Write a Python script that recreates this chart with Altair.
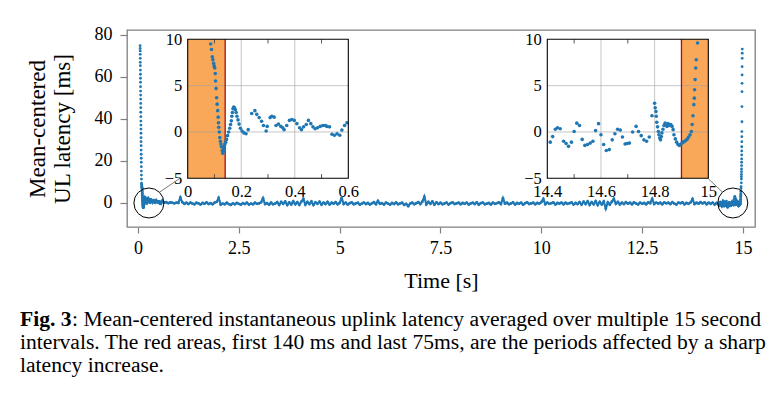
import altair as alt
import pandas as pd

FONT = "Liberation Serif"
BLUE = "#1f77b4"
ORANGE = "#f9a85a"
DARKRED = "#a50f15"
FRAME_GRAY = "#808080"

# ---------------- data ----------------
# left spike (start of interval), visible only in the main plot
spike_left_t = [0.052, 0.053, 0.054, 0.055, 0.056, 0.057, 0.058, 0.059, 0.060, 0.061,
                0.062, 0.063, 0.064, 0.065, 0.066, 0.067, 0.068, 0.069, 0.070, 0.071,
                0.072, 0.073, 0.074, 0.075, 0.076, 0.077, 0.078, 0.079, 0.080, 0.081,
                0.082, 0.083, 0.084, 0.085]
spike_left_v = [74.9, 73.6, 72.4, 70.8, 68.9, 67.0, 65.4, 63.3, 61.3, 59.4,
                57.5, 55.4, 53.3, 51.4, 49.5, 47.4, 45.4, 43.2, 41.1, 39.0,
                37.1, 35.2, 33.2, 31.1, 29.2, 27.3, 25.2, 23.2, 21.3, 19.4,
                17.3, 15.2, 13.3, 11.4]

# first zoom window (0 - 0.6 s)
inset1_t = [0.086, 0.089, 0.092, 0.094, 0.097, 0.099, 0.101, 0.103, 0.104, 0.106,
            0.108, 0.110, 0.112, 0.114, 0.115, 0.116, 0.118, 0.120, 0.122, 0.124,
            0.126, 0.129, 0.131, 0.133, 0.135, 0.137, 0.139, 0.142, 0.145, 0.149,
            0.153, 0.157, 0.160, 0.163, 0.165, 0.167, 0.169, 0.172, 0.175, 0.178,
            0.181, 0.184, 0.188, 0.192, 0.197, 0.203, 0.210, 0.218, 0.226, 0.239,
            0.251, 0.258, 0.267, 0.276, 0.283, 0.293, 0.297, 0.308, 0.314, 0.323,
            0.330, 0.339, 0.348, 0.355, 0.360, 0.370, 0.380, 0.389, 0.398, 0.408,
            0.418, 0.425, 0.433, 0.443, 0.451, 0.460, 0.468, 0.476, 0.485, 0.495,
            0.505, 0.514, 0.520, 0.530, 0.539, 0.548, 0.558, 0.568, 0.576, 0.586, 0.595]
inset1_v = [9.5, 8.9, 8.1, 7.8, 7.4, 7.1, 6.9, 6.3, 5.5, 4.7,
            3.7, 3.0, 2.3, 1.6, 1.0, 0.5, 0.0, -0.6, -1.0, -1.3,
            -1.6, -2.0, -2.3, -2.1, -1.8, -1.5, -1.3, -1.1, -0.8, -0.4,
            0.0, 0.4, 0.8, 1.2, 1.7, 2.1, 2.5, 2.7, 2.6, 2.4,
            2.1, 1.7, 1.3, 0.85, 0.4, 0.1, -0.1, -0.2, 0.25, 2.0,
            2.3, 1.9, 1.55, 1.15, 0.7, 0.1, 0.6, 1.55, 1.7, 1.6,
            0.7, 0.85, 0.6, 0.45, 0.25, 0.7, 1.25, 1.35, 1.25, 0.9,
            0.45, 0.25, 0.55, 0.8, 1.25, 0.9, 0.55, 0.35, 0.45, 0.6,
            0.7, 0.7, 0.6, 0.55, -0.25, -0.35, -0.2, -0.35, 0.2, 0.7, 1.0]

# middle of the interval, one value every 50 ms from 0.60 s to 14.35 s
mid_start, mid_step = 0.6, 0.05
mid_v = [0.6, 0.2, 0.4, -0.1, 0.3, 0.1, -0.2, 0.2,
         0.0, 2.6, 0.3, -0.4, 0.1, -0.5, 0.2, -0.3, -0.6, 0.1, -0.2, -0.7, 0.0, -0.4, 0.3, -0.5, -0.1, -0.6, 0.2, 0.5,
         2.4, -0.8, -0.3, -0.6, 0.1, -0.5, -0.9, -0.2, -0.6, 0.0, -0.4, -0.8, -0.1, -0.5, 0.2, -0.7, -0.3, -0.6, 0.1, -0.4,
         -0.2, 0.3, 2.3, -0.5, -0.1, -0.8, 0.2, -0.6, -0.3, 0.4, -0.9, 0.5, -0.4, 0.7, -1.0, 0.3, -0.7, 0.8, -0.6, 0.4,
         -0.9, 0.6, 2.0, -0.8, 0.5, -0.5, 0.7, -1.0, 0.3, -0.4, 0.6, -0.8, 0.2, -0.5, 0.5, -0.7, 0.1, -0.3, 0.4, -0.6,
         0.0, 2.4, -0.5, 0.2, -0.7, -0.1, 0.3, -0.6, -0.2, 0.1, -0.8, -0.3, 0.2, -0.5, 0.0, -0.7, -0.2, 0.4, -0.6, 1.0,
         -0.4, -0.1, -0.7, 0.2, -0.3, -0.8, 0.0, -0.5, 0.3, -0.6, -0.2, 0.1, -0.9, -0.4, -1.5, -0.3, 0.2, -0.6, -0.1, 0.4,
         -0.5, 0.6, 3.0, -0.7, 0.5, -0.4, 0.7, -0.8, 0.3, -0.5, 0.1, -0.6, -0.2, 0.2, -0.7, -0.1, 0.3, -0.5, -0.2, 0.1,
         -0.6, 0.0, -0.4, 0.2, -0.7, -0.2, 0.1, -0.5, 0.3, -0.8, -0.1, 0.2, -0.6, -0.3, 0.0, -0.7, 0.2, -0.4, -0.1, 0.3,
         -0.5, 2.3, -0.3, 0.1, -0.6, -0.2, 0.3, -0.7, 0.0, -0.4, 0.2, -0.8, -0.1, 0.3, -0.5, -0.2, 0.1, -0.6, 0.0, -0.3,
         0.4, 1.9, -0.6, 0.2, -0.4, -0.1, 0.3, -0.7, 0.0, -0.3, 0.2, -0.6, 0.1, -0.4, -0.1, 0.3, -0.7, 0.0, -0.5, 0.4,
         -0.8, 0.6, -0.5, 0.8, -0.9, 0.4, -0.6, 0.9, -1.0, 0.5, -0.7, 0.7, -2.6, 0.3, -0.8, 0.6, 2.0, -0.4, 0.5, -0.7,
         0.2, -0.5, 0.4, -0.3, 0.1, -0.6, 0.3, -0.2, -0.7, 0.2, -0.4, 0.0, -0.6, 0.3, -0.1, 2.0, -0.5, 0.2, -0.3, 0.1,
         -0.6, 0.3, -0.2, 0.1, -0.5, 0.4, -0.3, -0.7, 0.2, -0.1, 0.3, -0.6, 0.0, -0.4, 0.2, 1.9, -0.5, 0.1, -0.3, 0.4,
         -0.2, 0.3, -0.6, 0.1, -0.4, 0.2, -0.7, 0.0]
mid_t = [round(mid_start + mid_step * i, 3) for i in range(len(mid_v))]

# second zoom window (14.4 - 15 s)
inset2_t = [14.411, 14.420, 14.430, 14.438, 14.448, 14.461, 14.470, 14.479, 14.490, 14.500,
            14.510, 14.520, 14.530, 14.540, 14.550, 14.560, 14.570, 14.580, 14.591, 14.600,
            14.610, 14.620, 14.631, 14.642, 14.652, 14.662, 14.672, 14.680, 14.690, 14.697,
            14.706, 14.718, 14.731, 14.740, 14.750, 14.760, 14.770, 14.780, 14.790, 14.800,
            14.802, 14.805, 14.806, 14.808, 14.811, 14.814, 14.816, 14.819, 14.822, 14.825,
            14.827, 14.831, 14.835, 14.839, 14.842, 14.846, 14.850, 14.855, 14.860, 14.865,
            14.869, 14.872, 14.877, 14.882, 14.887, 14.892, 14.897, 14.902, 14.907, 14.912,
            14.917, 14.922, 14.927, 14.932, 14.937, 14.940, 14.943, 14.946, 14.948, 14.949,
            14.951, 14.953, 14.955, 14.960]
inset2_v = [-1.1, -0.5, 0.3, 0.45, 0.35, -1.0, -1.25, -1.55, -1.1, 0.05,
            0.95, 0.7, -0.8, -1.45, -1.35, -1.2, -1.0, 0.15, 0.9, -0.3,
            -1.35, -2.0, -1.9, -0.85, -0.2, 0.3, 0.2, -0.55, -1.3, -1.25,
            -1.2, 0.0, 0.6, 0.05, -0.4, -0.85, -1.0, -0.55, 1.75, 3.1,
            2.6, 2.2, 1.7, 1.05, 0.55, 0.05, -0.3, -0.65, -0.85, -0.5,
            -0.1, 0.3, 0.7, 0.95, 0.8, 0.6, 0.9, 0.7, 0.8, 0.6,
            0.25, -0.3, -0.75, -1.1, -1.35, -1.45, -1.35, -1.2, -1.1, -1.0,
            -0.9, -0.75, -0.55, -0.3, 0.05, 0.8, 1.75, 2.95, 3.65, 4.55,
            5.65, 6.9, 7.8, 9.6]

# right spike (end of interval), visible only in the main plot
spike_right_t = [14.962, 14.963, 14.964, 14.965, 14.966, 14.967, 14.968, 14.969, 14.970, 14.971,
                 14.972, 14.973, 14.974, 14.975, 14.976, 14.977, 14.978, 14.979, 14.980, 14.981,
                 14.982, 14.983, 14.984]
spike_right_v = [11.4, 12.5, 13.6, 14.9, 16.2, 17.8, 19.4, 21.0, 22.9, 24.8,
                 26.8, 29.2, 31.6, 34.0, 38.7, 45.9, 53.0, 57.0, 61.0, 64.9,
                 68.9, 71.3, 73.3]

# spy circles and their connectors (main-plot data coordinates)
spy_t = [0.27, 14.75]
spy_v = [0.0, 0.0]
conn_t = [0.53, 14.50]
conn_v = [5.1, 5.1]
conn_t2 = [1.05, 14.15]
conn_v2 = [11.9, 11.4]

# axis ticks
main_x_ticks = [0, 2.5, 5, 7.5, 10, 12.5, 15]
main_y_ticks = [0, 20, 40, 60, 80]
inset_y_ticks = [-5, 0, 5, 10]
inset1_x_ticks = [0, 0.2, 0.4, 0.6]
inset2_x_ticks = [14.4, 14.6, 14.8, 15]
inset1_minor = [0.1, 0.3, 0.5]
inset2_minor = [14.5, 14.7, 14.9]
inset_y_grid = [0, 5]

# affected periods
shade1 = (0.0, 0.14)
shade2 = (14.9, 15.0)

cap_bold = "Fig. 3"
cap_line1 = ": Mean-centered instantaneous uplink latency averaged over multiple 15 second"
cap_line2 = "intervals. The red areas, first 140 ms and last 75ms, are the periods affected by a sharp"
cap_line3 = "latency increase."

# ---------------- layout constants ----------------
W, H = 628, 197
CAP_SIZE = 21.6

main_df = pd.DataFrame({
    "t": spike_left_t + inset1_t + mid_t + inset2_t + spike_right_t,
    "v": spike_left_v + inset1_v + mid_v + inset2_v + spike_right_v,
})

mx = alt.Scale(domain=[-0.273, 15.30], nice=False, zero=False)
my = alt.Scale(domain=[-11.43, 82.38], nice=False, zero=False)

mx_axis = alt.Axis(values=main_x_ticks, format=".1~f", title="Time [s]", orient="bottom",
                   domain=False, grid=False, tickSize=6, tickColor=FRAME_GRAY, tickWidth=1.2,
                   labelFont=FONT, labelFontSize=18, labelColor="black", labelPadding=6,
                   labelFlush=False, titleFont=FONT, titleFontSize=22, titleFontWeight="normal",
                   titleColor="black", titlePadding=13)
my_axis = alt.Axis(values=main_y_ticks, format="d", title=["Mean-centered", "UL latency [ms]"],
                   orient="left", domain=False, grid=False, tickSize=7, tickColor=FRAME_GRAY,
                   tickWidth=1.2, labelFont=FONT, labelFontSize=18, labelColor="black",
                   labelPadding=8, labelFlush=False, titleFont=FONT, titleFontSize=23,
                   titleFontWeight="normal", titleColor="black", titlePadding=20,
                   titleLineHeight=25)


def mX(f):
    return alt.X(f, type="quantitative", scale=mx, axis=mx_axis)


def mY(f):
    return alt.Y(f, type="quantitative", scale=my, axis=my_axis)


line = alt.Chart(main_df).transform_filter(
    alt.FieldRangePredicate(field="t", range=[0.1, 14.95])
).mark_line(color=BLUE, strokeWidth=2.2).encode(x=mX("t"), y=mY("v"))

pts = alt.Chart(main_df).mark_circle(color=BLUE, size=8, opacity=1).encode(x=mX("t"), y=mY("v"))

spy = alt.Chart(pd.DataFrame({"t": spy_t, "v": spy_v})).mark_point(
    shape="circle", size=900, color="black", strokeWidth=1, filled=False, opacity=1
).encode(x=mX("t"), y=mY("v"))

conn = alt.Chart(pd.DataFrame({"t": conn_t, "v": conn_v, "t2": conn_t2, "v2": conn_v2})).mark_rule(
    color="#555555", strokeWidth=0.8
).encode(x=mX("t"), y=mY("v"), x2="t2:Q", y2="v2:Q")


def caption(text, x, y, bold=False, size=CAP_SIZE):
    return alt.Chart(pd.DataFrame({"s": [text]})).mark_text(
        align="left", baseline="alphabetic", font=FONT, fontSize=size,
        fontWeight="bold" if bold else "normal", color="black"
    ).encode(x=alt.value(x), y=alt.value(y), text="s:N")


cap_x = 20 - 127
caps = [
    caption(cap_bold, cap_x, 296, bold=True),
    caption(cap_line1, cap_x + 52, 296),
    caption(cap_line2, cap_x, 319),
    caption(cap_line3, cap_x, 342),
]

main_layer = alt.layer(line, pts, spy, conn, *caps)


def inset(ts, vs, xdom, xrange_px, xticks, minor, shade, red_x, grid_x):
    xs = alt.Scale(domain=list(xdom), range=list(xrange_px), nice=False, zero=False)
    ys = alt.Scale(domain=[-5, 10], range=[148.3, 9.3], nice=False, zero=False)
    xa = alt.Axis(values=xticks, format=".1~f", orient="bottom", offset=148.3 - H, title=None,
                  domain=False, ticks=False, tickSize=0, grid=False, labelFont=FONT,
                  labelFontSize=16.5, labelColor="black", labelPadding=5, labelFlush=False,
                  labelOverlap=False)
    ya = alt.Axis(values=inset_y_ticks, format="d", orient="left", offset=-xrange_px[0], title=None,
                  domain=False, ticks=False, tickSize=0, grid=False, labelFont=FONT,
                  labelFontSize=16.5, labelColor="black", labelPadding=6, labelFlush=False,
                  labelOverlap=False)

    def X(f):
        return alt.X(f, type="quantitative", scale=xs, axis=xa)

    def Y(f):
        return alt.Y(f, type="quantitative", scale=ys, axis=ya)

    box = pd.DataFrame({"x0": [xdom[0]], "x1": [xdom[1]], "y0": [-5], "y1": [10]})
    bg = alt.Chart(box).mark_rect(fill="white").encode(
        x=X("x0"), x2="x1:Q", y=Y("y0"), y2="y1:Q")
    sh = alt.Chart(pd.DataFrame({"x0": [shade[0]], "x1": [shade[1]], "y0": [-5], "y1": [10]})).mark_rect(
        fill=ORANGE).encode(x=X("x0"), x2="x1:Q", y=Y("y0"), y2="y1:Q")
    gx = alt.Chart(pd.DataFrame({"x": grid_x, "y0": -5, "y1": 10})).mark_rule(
        color="#a0a0a0", opacity=0.6, strokeWidth=1).encode(x=X("x"), y=Y("y0"), y2="y1:Q")
    gy = alt.Chart(pd.DataFrame({"y": inset_y_grid, "x0": xdom[0], "x1": xdom[1]})).mark_rule(
        color="#a0a0a0", opacity=0.6, strokeWidth=1).encode(x=X("x0"), x2="x1:Q", y=Y("y"))
    tk = alt.Chart(pd.DataFrame({"x": minor + minor, "y0": [-5] * len(minor) + [10] * len(minor),
                                 "y1": [-4.55] * len(minor) + [9.55] * len(minor)})).mark_rule(
        color="#555555", strokeWidth=1).encode(x=X("x"), y=Y("y0"), y2="y1:Q")
    rd = alt.Chart(pd.DataFrame({"x": [red_x], "y0": [-5], "y1": [10]})).mark_rule(
        color=DARKRED, strokeWidth=1.3).encode(x=X("x"), y=Y("y0"), y2="y1:Q")
    pt = alt.Chart(pd.DataFrame({"t": ts, "v": vs})).mark_circle(
        color=BLUE, size=13, opacity=1).encode(x=X("t"), y=Y("v"))
    fr = alt.Chart(box).mark_rect(fillOpacity=0, stroke="black", strokeWidth=1.1).encode(
        x=X("x0"), x2="x1:Q", y=Y("y0"), y2="y1:Q")
    return alt.layer(bg, sh, gx, gy, tk, rd, pt, fr)


inset1 = inset(inset1_t, inset1_v, (0.0, 0.6), (60.7, 221.3), inset1_x_ticks, inset1_minor,
               shade1, shade1[1], [0.2, 0.4])
inset2 = inset(inset2_t, inset2_v, (14.4, 15.0), (420.3, 581.3), inset2_x_ticks, inset2_minor,
               shade2, shade2[0], [14.6, 14.8])

chart = alt.layer(main_layer, inset1, inset2).resolve_scale(
    x="independent", y="independent"
).properties(
    width=W, height=H,
    autosize=alt.AutoSizeParams(type="none"),
    padding={"left": 119, "top": 22, "right": 20, "bottom": 160},
).configure_view(stroke=FRAME_GRAY, strokeWidth=1.3)

chart.save("out.html", embed_options={"renderer": "svg", "actions": False})
